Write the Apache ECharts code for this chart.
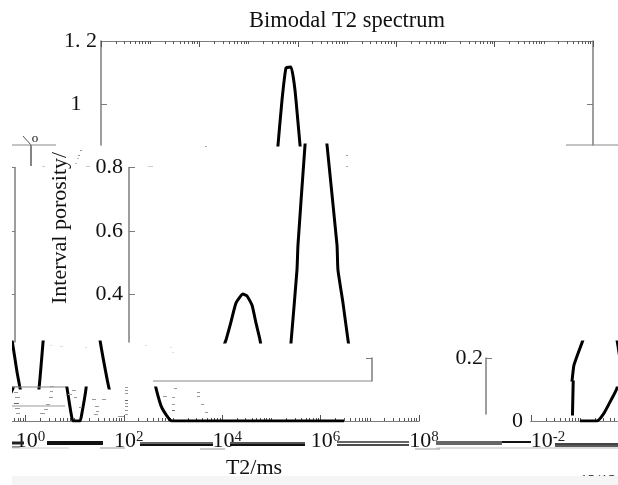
<!DOCTYPE html>
<html><head><meta charset="utf-8">
<style>html,body{margin:0;padding:0;background:#fff}#c{width:618px;height:485px}</style>
<script src="https://cdn.jsdelivr.net/npm/echarts@6/dist/echarts.min.js"></script>
</head><body><div id="c"></div>
<script>
// ---- data ----
const t2ms = [0.099,0.219,0.305,0.423,0.56,0.644,0.98,1.24,1.57,2.17,2.62,3.31,4.0,4.82,6.09,7.01,8.45,9.27,12.9,14.1,17.1,20.6,27.2,28.5,39.6,47.8,57.6,72.8,87.7,111,177,185,234,296,374,451,597,955,2990000];
const porosity = [0,0,0.025,0.066,0.104,0.177,0.256,0.313,0.373,0.401,0.395,0.366,0.309,0.256,0.155,0.104,0.025,0,0,0.025,0.104,0.249,0.477,0.556,0.871,1.014,1.115,1.118,1.045,0.871,0.556,0.477,0.373,0.256,0.167,0.104,0.041,0,0];
const majorTicks = [0.01,1,100,10000,1000000,100000000];
const minorTicks = [0.02,0.03,0.04,0.05,0.06,0.07,0.08,0.09,0.1,0.2,0.3,0.4,0.5,0.6,0.7,0.8,0.9,2,3,4,5,6,7,8,9,10,20,30,40,50,60,70,80,90,200,300,400,500,600,700,800,900,1000,2000,3000,4000,5000,6000,7000,8000,9000,20000,30000,40000,50000,60000,70000,80000,90000,100000,200000,300000,400000,500000,600000,700000,800000,900000,2000000,3000000,4000000,5000000,6000000,7000000,8000000,9000000,10000000,20000000,30000000,40000000,50000000,60000000,70000000,80000000,90000000];
const titleText = 'Bimodal T2 spectrum', xName = 'T2/ms', yName = 'Interval porosity/';

// ---- layout of the picture: the same plot, sliced in horizontal bands ----
const FONT = '"Liberation Serif","Times New Roman",serif';
const W = 492, X0 = 101, AXC = '#7c7c7c';
const val = y => (421 - y) / 316.7;
const grids = [], xAxes = [], yAxes = [], series = [];
const pairs = t2ms.map((t, i) => [t, porosity[i]]);

function band(o) {
  const g = grids.length;
  grids.push({ left: o.left, top: o.top, width: o.width || W, height: o.bottom - o.top, outerBoundsMode: 'none', containLabel: false });
  const xi = xAxes.length, yi = yAxes.length;
  const vMin = o.vMin !== undefined ? o.vMin : val(o.bottom), vMax = o.vMax !== undefined ? o.vMax : val(o.top);
  const baseX = { gridIndex: g, type: 'log', logBase: 10, min: 0.01, max: 1e8, show: false };
  const baseY = { gridIndex: g, type: 'value', min: vMin, max: vMax, show: false, splitLine: { show: false } };
  (o.x && o.x.length ? o.x : [{}]).forEach(a => xAxes.push(Object.assign({}, baseX, a)));
  (o.y && o.y.length ? o.y : [{}]).forEach(a => yAxes.push(Object.assign({}, baseY, a)));
  if (o.curve) series.push({ type: 'line', data: pairs, xAxisIndex: xi, yAxisIndex: yi, showSymbol: false, clip: true, silent: true, animation: false, smooth: 0.15,
    lineStyle: { width: 3, color: '#000', cap: 'butt', join: 'round' } });
}
function xTicks(position, labelled, labelPad) {
  const common = { show: true, position, splitLine: { show: false }, axisLine: { show: true, onZero: false, lineStyle: { color: AXC, width: 1 } } };
  const minor = Object.assign({}, common, { axisLabel: { show: false }, axisTick: { show: true, inside: true, length: 3, customValues: minorTicks, lineStyle: { color: '#555' } } });
  const major = Object.assign({}, common, { axisTick: { show: true, inside: true, length: 6, customValues: majorTicks, lineStyle: { color: '#555' } },
    axisLabel: labelled ? { show: true, customValues: majorTicks, margin: 9, hideOverlap: false, showMinLabel: true, showMaxLabel: true, padding: [0, 0, 0, labelPad],
      formatter: v => `{b|10}{s|${Math.round(Math.log10(v))}}`,
      rich: { b: { fontFamily: FONT, fontSize: 22, color: '#111', padding:[0,0,0,0] }, s: { fontFamily: FONT, fontSize: 15, color: '#222', verticalAlign: 'top', padding:[0,0,0,0] } } } : { show: false } });
  return [minor, major];
}
function yTicks(position, vals, labelled, margin, padding) {
  return { show: true, position, splitLine: { show: false },
    axisLine: { show: true, onZero: false, lineStyle: { color: AXC, width: 1.5 } },
    axisTick: { show: true, inside: true, length: 6, customValues: vals, lineStyle: { color: AXC } },
    axisLabel: labelled ? { show: true, customValues: vals, margin: margin || 6, padding: padding || 0, showMinLabel: true, showMaxLabel: true, hideOverlap: false, fontFamily: FONT, fontSize: 22, color: '#111', formatter: v => v === 1.2 ? '1. 2' : v === 1 ? '1\u2002\u2009' : String(v) } : { show: false } };
}
const noLine = o => { o.axisLine.show = false; o.axisTick.show = false; return o; };

// band A: untouched top part
band({ left: X0, top: 41, bottom: 145, vMax: 1.2, curve: true, x: xTicks('top', false), y: [yTicks('left', [1, 1.2], true, 4), yTicks('right', [1, 1.2], false)] });
// band B: middle part, moved right
band({ left: X0 + 27, top: 145, bottom: 342, curve: true });
band({ left: 129, top: 167.5, bottom: 342, y: [yTicks('left', [0.4, 0.6, 0.8], true)] });
band({ left: 15 - W, top: 167.5, bottom: 342, y: [yTicks('right', [0.4, 0.6, 0.8], false)] });
// band C
band({ left: X0 - 221, top: 342, bottom: 388, curve: true });
band({ left: X0 + 384, top: 342, bottom: 380, curve: true });
band({ left: X0 + 384, top: 382, bottom: 414, vMin: 0.14, vMax: 0.16, curve: true });
band({ left: 486, top: 358, bottom: 414, vMin: 0.035, vMax: 0.2, y: [yTicks('left', [0.2], true, 3)] });
band({ left: 372 - W, top: 358, bottom: 381, vMin: 0.127, vMax: 0.2, y: [yTicks('right', [0.2], false)] });
// band E: bottom part, wrapped round the window
band({ left: X0 - 174, top: 388, bottom: 421, vMin: 0, curve: true, x: xTicks('bottom', true, 10) });
band({ left: X0 + 430, top: 388, bottom: 421, vMin: 0, curve: true, x: xTicks('bottom', true, 34), y: [noLine(yTicks('left', [0], true, 8, [0, 0, 6, 0]))] });

// torn rows and specks of the picture
const line = (x1, y1, x2, y2, color, w) => ({ type: 'line', z: 50, shape: { x1, y1, x2, y2 }, style: { stroke: color, lineWidth: w } });
const txt = (x, y, text, size, extra) => ({ type: 'text', z: 50, x, y, style: Object.assign({ text, font: `${size}px ${FONT}`, fill: '#111' }, extra || {}) });
const dash = ([x, y, w, c]) => line(x, y + .5, x + w, y + .5, c || '#999', 1);
const specks = [[13,386,5],[14,392,4],[15,397,5],[14,403,5,'#666'],[15,408,5],[16,413,4],[50,386,4],[50,391,3],[49,397,4],[46,404,4],[44,409,4],[40,413,5],
 [68,394,4],[72,390,4],[74,397,3],[79,407,3],[92,399,4],[102,399,4],[95,406,4],[96,411,3],[94,414,4],[118,416,6],
 [125,387,3],[125,390,3],[125,393,3],[125,400,3,'#666'],[125,403,3],[125,406,3],[125,410,3],[125,414,3],
 [163,396,4],[172,397,3],[172,404,3],[174,388,3],[172,410,3,'#666'],[197,392,3],[197,396,3],[201,404,3],[205,412,3],
 [205,146,2,'#aaa'],[42,166,3,'#ccc'],[80,150,2],[78,155,2],[77,158,2,'#bbb'],[75,163,2,'#bbb'],[86,166,4,'#ccc'],[148,166,5,'#ccc'],[346,155,2],[346,166,2,'#aaa'],
 [50,345,2,'#ddd'],[60,346,3,'#ddd'],[85,347,2,'#ddd'],[145,345,2,'#ddd'],[170,347,2,'#ddd'],[172,352,2,'#ddd']];
const tears = [[145,12,44,'#888',1],[145,566,52,'#888',1],[381,153,219,'#888',1],[387,12,53,'#888',1],[406,12,53,'#999',1],
 [443,12,12,'#222',3],[447,12,8,'#888',2],[443,47,56,'#111',4],[448,12,57,'#ccc',1],[443,140,73,'#666',2],[445,140,73,'#111',2],[443,230,75,'#555',2],[445,230,75,'#111',2],
 [448,100,25,'#999',1],[449,200,25,'#999',1],[442,337,72,'#333',1.5],[445,337,72,'#111',1.5],[443,436,66,'#666',4],[442,502,29,'#111',2],[444,555,63,'#444',2],[446,555,63,'#222',1.5],[448,436,182,'#bbb',1],[449,415,25,'#999',1]];
const graphic = [
  txt(347, 21, titleText, 22.5, { align: 'center', verticalAlign: 'middle' }),
  { type: 'text', z: 50, x: 60, y: 304, rotation: Math.PI / 2, style: { text: yName, font: `22px ${FONT}`, fill: '#111', align: 'left', verticalAlign: 'middle' } },
  txt(254, 468, xName, 22, { align: 'center', verticalAlign: 'middle' }),
  txt(19, 482, '15', 13, { align: 'center', verticalAlign: 'middle' }),
  txt(598, 482, '12/12', 16, { align: 'center', verticalAlign: 'middle' }),
  line(31, 145, 31, 166, '#333', 1.2), line(23, 136, 31, 145, '#555', 1),
  txt(35, 139, 'o', 13, { align: 'center', verticalAlign: 'middle' }),
  ...tears.map(([y, x, w, c, lw]) => line(x, y, x + w, y, c, lw)),
  ...specks.map(dash),
  { type: 'rect', z: 90, shape: { x: 12, y: 476, width: 606, height: 9 }, style: { fill: '#f5f5f5' } },
  { type: 'rect', z: 95, shape: { x: 0, y: 145, width: 12, height: 340 }, style: { fill: '#fff' } }
];

const chart = echarts.init(document.getElementById('c'), null, { renderer: 'canvas', width: 618, height: 485 });
chart.setOption({ backgroundColor: '#fff', animation: false, grid: grids, xAxis: xAxes, yAxis: yAxes, series, graphic });
</script></body></html>
